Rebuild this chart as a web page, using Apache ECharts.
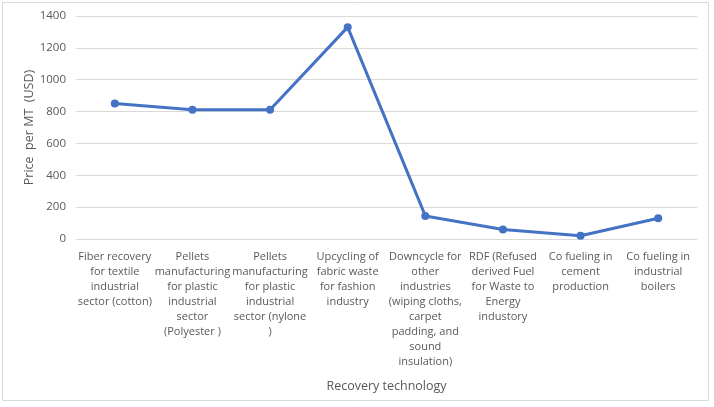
<!DOCTYPE html>
<html><head><meta charset="utf-8">
<script src="https://cdn.jsdelivr.net/npm/echarts@6/dist/echarts.min.js"></script>
<style>html,body{margin:0;padding:0;background:#fff}#c{width:714px;height:407px}</style>
</head><body><div id="c"></div>
<script>
const categories = [
  "Fiber recovery\nfor textile\nindustrial\nsector (cotton)",
  "Pellets\nmanufacturing\nfor plastic\nindustrial\nsector\n(Polyester )",
  "Pellets\nmanufacturing\nfor plastic\nindustrial\nsector (nylone\n)",
  "Upcycling of\nfabric waste\nfor fashion\nindustry",
  "Downcycle for\nother\nindustries\n(wiping cloths,\ncarpet\npadding, and\nsound\ninsulation)",
  "RDF (Refused\nderived Fuel\nfor Waste to\nEnergy\nindustory",
  "Co fueling in\ncement\nproduction",
  "Co fueling in\nindustrial\nboilers"
];
const prices = [850, 812, 812, 1330, 145, 60, 20, 130];
const yTicks = { min: 0, max: 1400, interval: 200 };

const chart = echarts.init(document.getElementById('c'));
const font = "'Open Sans', 'Liberation Sans', sans-serif";
chart.setOption({
  animation: false,
  graphic: [{ type: 'rect', shape: { x: 2.5, y: 2.5, width: 706, height: 398 }, style: { fill: 'none', stroke: '#d9d9d9', lineWidth: 1 } }],
  grid: { left: 76, right: 17, top: 16, bottom: 168, containLabel: false },
  xAxis: {
    type: 'category', data: categories, boundaryGap: true,
    name: 'Recovery technology', nameLocation: 'middle', nameGap: 141, nameMoveOverlap: false,
    nameTextStyle: { color: '#595959', fontSize: 12.5, fontFamily: font },
    axisLine: { show: false }, axisTick: { show: false },
    axisLabel: { interval: 0, color: '#595959', fontSize: 11, fontFamily: font, lineHeight: 15, margin: 10 }
  },
  yAxis: {
    type: 'value', min: yTicks.min, max: yTicks.max, interval: yTicks.interval,
    name: 'Price  per MT  (USD)', nameLocation: 'middle', nameGap: 40, nameMoveOverlap: false,
    nameTextStyle: { color: '#595959', fontSize: 12.5, fontFamily: font },
    axisLine: { show: false }, axisTick: { show: false },
    axisLabel: { color: '#595959', fontSize: 11.5, fontFamily: font, margin: 10, formatter: v => String(v) },
    splitLine: { lineStyle: { color: '#d9d9d9', width: 1 } }
  },
  series: [{
    type: 'line', data: prices, symbol: 'circle', symbolSize: 8,
    lineStyle: { color: '#4472C4', width: 3 }, itemStyle: { color: '#4472C4' }
  }]
});
</script></body></html>
